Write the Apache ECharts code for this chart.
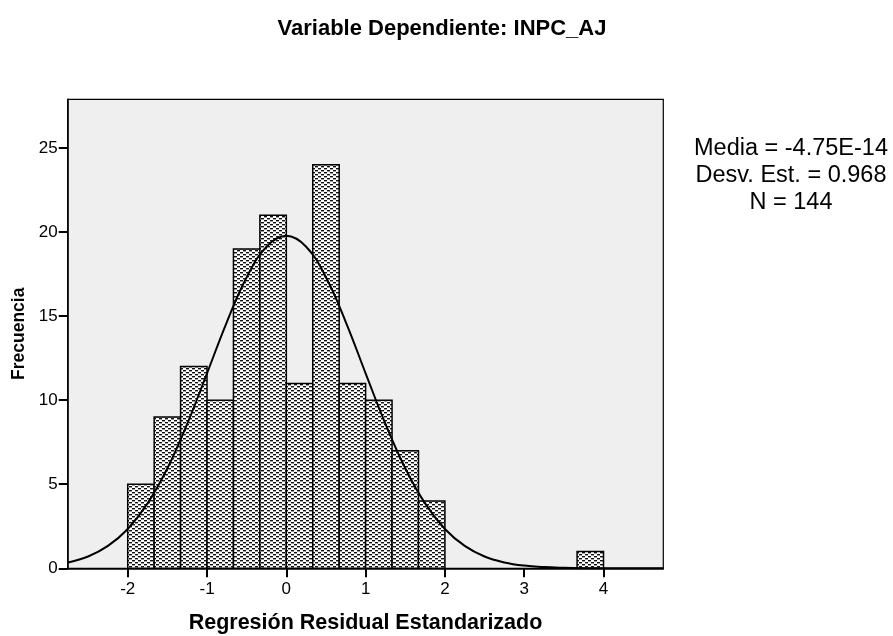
<!DOCTYPE html>
<html>
<head>
<meta charset="utf-8">
<script src="https://cdn.jsdelivr.net/npm/echarts@6/dist/echarts.min.js"></script>
<style>
html,body{margin:0;padding:0;background:#fff;}
#c{width:893px;height:636px;}
</style>
</head>
<body>
<div id="c"></div>
<script>
// ---- data ----
const binStart = [-2, -1.6667, -1.3333, -1, -0.6667, -0.3333, 0, 0.3333, 0.6667, 1, 1.3333, 1.6667, 3.6667];
const binEnd   = [-1.6667, -1.3333, -1, -0.6667, -0.3333, 0, 0.3333, 0.6667, 1, 1.3333, 1.6667, 2, 4];
const counts   = [5, 9, 12, 10, 19, 21, 11, 24, 11, 10, 7, 4, 1];

const curveX = [-2.75, -2.5, -2.25, -2, -1.75, -1.5, -1.25, -1, -0.75, -0.5, -0.25, 0,
                0.25, 0.5, 0.75, 1, 1.25, 1.5, 1.75, 2, 2.25, 2.5, 2.75, 3, 3.25, 3.5, 3.75, 4, 4.25, 4.5, 4.75];
const curveY = [0.35, 0.70, 1.33, 2.34, 3.86, 5.95, 8.59, 11.60, 14.65, 17.31, 19.13, 19.78,
                19.13, 17.31, 14.65, 11.60, 8.59, 5.95, 3.86, 2.34, 1.33, 0.70, 0.35, 0.16, 0.07, 0.03, 0.01, 0.004, 0.001, 0.0003, 0.0001];

const xTickValues = [-2, -1, 0, 1, 2, 3, 4];
const yTickValues = [0, 5, 10, 15, 20, 25];
const statsLines = ['Media = -4.75E-14', 'Desv. Est. = 0.968', 'N = 144'];

const titleText = 'Variable Dependiente: INPC_AJ';
const xName = 'Regresión Residual Estandarizado';
const yName = 'Frecuencia';

// ---- pattern fill ----
function makePattern() {
  const cv = document.createElement('canvas');
  cv.width = 6; cv.height = 4;
  const ctx = cv.getContext('2d');
  ctx.fillStyle = '#ffffff';
  ctx.fillRect(0, 0, 6, 4);
  ctx.fillStyle = '#111111';
  ctx.fillRect(0, 0, 3, 1);
  ctx.fillRect(3, 2, 3, 1);
  ctx.fillStyle = '#9a9a9a';
  ctx.fillRect(0, 1, 3, 1);
  ctx.fillRect(3, 3, 3, 1);
  return cv;
}
const pattern = makePattern();

const histData = binStart.map((s, i) => [s, binEnd[i], counts[i]]);
const curveData = curveX.map((x, i) => [x, curveY[i]]);

const chart = echarts.init(document.getElementById('c'), null, {renderer: 'canvas'});
const font = 'Arial, "Liberation Sans", sans-serif';

chart.setOption({
  animation: false,
  backgroundColor: '#ffffff',
  title: [
    {
      text: titleText, left: 437, top: 13, textAlign: 'center',
      textStyle: {fontFamily: font, fontSize: 22, fontWeight: 'bold', color: '#000'}
    },
    {
      text: statsLines.join('\n'), left: 786, top: 130, textAlign: 'center',
      textStyle: {fontFamily: font, fontSize: 23.5, fontWeight: 'normal', color: '#000', lineHeight: 27}
    }
  ],
  grid: {
    left: 67.7, right: 229.7, top: 99.3, bottom: 67.7,
    outerBoundsMode: 'none', containLabel: false,
    show: true, backgroundColor: '#efefef', borderColor: '#000', borderWidth: 1.2
  },
  xAxis: {
    type: 'value', min: -2.757, max: 4.754,
    name: xName, nameLocation: 'middle', nameGap: 44,
    nameTextStyle: {fontFamily: font, fontSize: 21.5, fontWeight: 'bold', color: '#000'},
    axisLine: {show: true, onZero: false, lineStyle: {color: '#000', width: 1.5}},
    axisTick: {show: true, length: 9, customValues: xTickValues, lineStyle: {color: '#000', width: 2}},
    axisLabel: {customValues: xTickValues, fontFamily: font, fontSize: 17, color: '#000', margin: 13},
    splitLine: {show: false}
  },
  yAxis: {
    type: 'value', min: 0, max: 27.9,
    name: yName, nameLocation: 'middle', nameGap: 37,
    nameTextStyle: {fontFamily: font, fontSize: 17.5, fontWeight: 'bold', color: '#000'},
    axisLine: {show: true, onZero: false, lineStyle: {color: '#000', width: 1.5}},
    axisTick: {show: true, length: 9, customValues: yTickValues, lineStyle: {color: '#000', width: 2}},
    axisLabel: {customValues: yTickValues, fontFamily: font, fontSize: 17, color: '#000', margin: 10},
    splitLine: {show: false}
  },
  series: [
    {
      type: 'custom',
      data: histData,
      encode: {x: [0, 1], y: 2},
      renderItem: function (params, api) {
        const p0 = api.coord([api.value(0), 0]);
        const p1 = api.coord([api.value(1), api.value(2)]);
        return {
          type: 'rect',
          shape: {x: p0[0], y: p1[1], width: p1[0] - p0[0], height: p0[1] - p1[1]},
          style: {fill: {image: pattern, repeat: 'repeat'}, stroke: '#000', lineWidth: 1.5}
        };
      },
      z: 2
    },
    {
      type: 'line',
      data: curveData,
      smooth: 0.4,
      showSymbol: false,
      lineStyle: {color: '#000', width: 2},
      z: 3
    }
  ]
});
</script>
</body>
</html>
